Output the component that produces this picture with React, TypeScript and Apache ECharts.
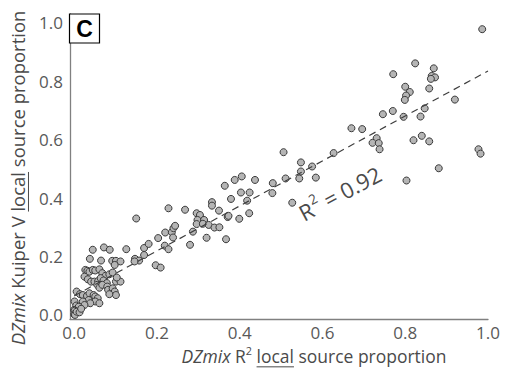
import React, { useEffect, useRef } from "react";
import * as echarts from "echarts";

// DZmix R2 local source proportion (x) vs DZmix Kuiper V local source proportion (y)
const r2Local = [
  0.045, 0.072, 0.086, 0.126, 0.038, 0.065, 0.092, 0.101, 0.112, 0.098,
  0.027, 0.032, 0.037, 0.045, 0.051, 0.061, 0.068, 0.076, 0.085, 0.093,
  0.101, 0.112, 0.103, 0.025, 0.033, 0.041, 0.049, 0.058, 0.064, 0.071,
  0.079, 0.056, 0.061, 0.068, 0.080, 0.082, 0.093, 0.098, 0.101, 0.085,
  0.006, 0.014, 0.021, 0.031, 0.037, 0.047, 0.051, 0.057, 0.051, 0.061,
  0.035, 0.039, 0.021, 0.025, 0.001, 0.005, 0.011, 0.0, 0.001, 0.0,
  0.002, 0.006, 0.013, 0.017,
  0.147, 0.157, 0.146, 0.169, 0.169, 0.180, 0.197, 0.209, 0.203, 0.219,
  0.228, 0.220, 0.236, 0.240, 0.244, 0.239, 0.287, 0.280, 0.150, 0.228,
  0.268, 0.296, 0.304, 0.298, 0.314, 0.296, 0.311, 0.325, 0.339, 0.351,
  0.320, 0.367, 0.333, 0.333, 0.350, 0.371, 0.373, 0.399, 0.423, 0.364,
  0.379, 0.388, 0.405, 0.437, 0.480, 0.511, 0.544, 0.584, 0.479, 0.403,
  0.424, 0.418, 0.527, 0.506, 0.627, 0.548, 0.575, 0.548,
  0.986, 0.824, 0.771, 0.869, 0.864, 0.872, 0.862, 0.800, 0.811, 0.802,
  0.799, 0.858, 0.920, 0.847, 0.837, 0.796, 0.770, 0.746, 0.670, 0.696,
  0.731, 0.721, 0.736, 0.738, 0.820, 0.840, 0.858, 0.977, 0.982, 0.881,
  0.803,
];
const kuiperLocal = [
  0.223, 0.231, 0.223, 0.225, 0.192, 0.186, 0.185, 0.185, 0.183, 0.171,
  0.154, 0.151, 0.148, 0.154, 0.152, 0.156, 0.143, 0.134, 0.139, 0.145,
  0.114, 0.114, 0.128, 0.131, 0.122, 0.114, 0.114, 0.116, 0.126, 0.118,
  0.109, 0.103, 0.093, 0.103, 0.097, 0.086, 0.091, 0.080, 0.068, 0.071,
  0.080, 0.071, 0.068, 0.065, 0.074, 0.068, 0.063, 0.057, 0.046, 0.040,
  0.051, 0.040, 0.046, 0.034, 0.046, 0.032, 0.028, 0.017, 0.014, 0.002,
  0.0, 0.011, 0.009, 0.021,
  0.192, 0.186, 0.183, 0.229, 0.205, 0.243, 0.170, 0.162, 0.263, 0.237,
  0.225, 0.282, 0.283, 0.297, 0.305, 0.265, 0.285, 0.240, 0.330, 0.365,
  0.360, 0.348, 0.342, 0.325, 0.325, 0.311, 0.312, 0.308, 0.299, 0.300,
  0.264, 0.259, 0.386, 0.374, 0.357, 0.335, 0.339, 0.329, 0.348, 0.442,
  0.397, 0.462, 0.474, 0.462, 0.451, 0.467, 0.467, 0.470, 0.417, 0.419,
  0.419, 0.391, 0.384, 0.557, 0.554, 0.522, 0.508, 0.491,
  0.978, 0.861, 0.824, 0.844, 0.818, 0.813, 0.808, 0.781, 0.763, 0.751,
  0.736, 0.775, 0.737, 0.707, 0.679, 0.678, 0.698, 0.687, 0.639, 0.636,
  0.605, 0.589, 0.588, 0.567, 0.598, 0.613, 0.594, 0.567, 0.552, 0.502,
  0.460,
];
const tickValues = [0, 0.2, 0.4, 0.6, 0.8, 1.0];
const trendLine = [
  [0, 0.065],
  [1, 0.835],
];
const panelLetter = "C";
const r2Text = { label: "R", sup: "2", rest: " = 0.92" };

const FONT = "Open Sans";
const TEXT_COLOR = "#4a4a4a";

type Seg = { t: string; italic?: boolean; sup?: boolean; underline?: boolean };

const xTitleSegs: Seg[] = [
  { t: "DZmix", italic: true },
  { t: " R" },
  { t: "2", sup: true },
  { t: " " },
  { t: "local", underline: true },
  { t: " source proportion" },
];
const yTitleSegs: Seg[] = [
  { t: "DZmix", italic: true },
  { t: " Kuiper V " },
  { t: "local", underline: true },
  { t: " source proportion" },
];

const ctx = document.createElement("canvas").getContext("2d") as CanvasRenderingContext2D;
function measure(text: string, size: number, italic = false) {
  ctx.font = `${italic ? "italic " : ""}${size}px "${FONT}"`;
  return ctx.measureText(text).width;
}

function segWidth(segs: Seg[], size: number) {
  let w = 0;
  for (const s of segs) w += measure(s.t, s.sup ? size * 0.62 : size, !!s.italic);
  return w;
}

function buildTitle(segs: Seg[], targetWidth: number, cx: number, cy: number, rotation: number) {
  const base = 16;
  const size = (base * targetWidth) / segWidth(segs, base);
  const total = segWidth(segs, size);
  let x = -total / 2;
  const children: any[] = [];
  for (const s of segs) {
    const fs = s.sup ? size * 0.62 : size;
    const w = measure(s.t, fs, !!s.italic);
    children.push({
      type: "text",
      x,
      y: s.sup ? -size * 0.32 : 0,
      style: {
        text: s.t,
        font: `${s.italic ? "italic " : ""}${fs}px "${FONT}"`,
        fill: TEXT_COLOR,
        align: "left",
        verticalAlign: "middle",
      },
    });
    if (s.underline) {
      children.push({
        type: "line",
        shape: { x1: x, y1: size * 0.62, x2: x + w, y2: size * 0.62 },
        style: { stroke: TEXT_COLOR, lineWidth: 1 },
      });
    }
    x += w;
  }
  return { type: "group", x: cx, y: cy, rotation, children };
}

function buildR2(x: number, y: number, rotation: number) {
  const size = 22;
  const wR = measure(r2Text.label, size);
  const wS = measure(r2Text.sup, size * 0.62);
  return {
    type: "group",
    x,
    y,
    rotation,
    children: [
      { type: "text", x: 0, y: 0, style: { text: r2Text.label, font: `${size}px "${FONT}"`, fill: TEXT_COLOR, verticalAlign: "middle" } },
      { type: "text", x: wR + 1, y: -size * 0.35, style: { text: r2Text.sup, font: `${size * 0.62}px "${FONT}"`, fill: TEXT_COLOR, verticalAlign: "middle" } },
      { type: "text", x: wR + wS + 1, y: 0, style: { text: r2Text.rest, font: `${size}px "${FONT}"`, fill: TEXT_COLOR, verticalAlign: "middle" } },
    ],
  };
}

export default function App() {
  const ref = useRef<HTMLDivElement>(null);
  useEffect(() => {
    document.body.style.margin = "0";
    const chart = echarts.init(ref.current!, undefined, { renderer: "svg" });
    const points = r2Local.map((x, i) => [x, kuiperLocal[i]]);
    const axisCommon = {
      type: "value" as const,
      axisLine: { show: true, onZero: false, lineStyle: { color: "#808080", width: 1.3 } },
      axisTick: { show: false },
      splitLine: { show: false },
    };
    chart.setOption({
      animation: false,
      backgroundColor: "#ffffff",
      grid: { left: 70, right: 17, top: 14, bottom: 50, containLabel: false },
      xAxis: {
        ...axisCommon,
        min: -0.01,
        max: 1.0,
        axisLabel: {
          customValues: tickValues,
          formatter: (v: number) => v.toFixed(1),
          color: "#595959",
          fontSize: 17,
          fontFamily: FONT,
          margin: 5,
        },
      },
      yAxis: {
        ...axisCommon,
        min: -0.014,
        max: 1.03,
        axisLabel: {
          customValues: tickValues,
          formatter: (v: number) => v.toFixed(1),
          color: "#595959",
          fontSize: 17,
          fontFamily: FONT,
          margin: 7,
        },
      },
      series: [
        {
          type: "scatter",
          data: points,
          symbol: "circle",
          symbolSize: 7,
          itemStyle: { color: "#b5b5b5", borderColor: "#3a3a3a", borderWidth: 1, opacity: 1 },
          z: 2,
        },
        {
          type: "line",
          data: trendLine,
          symbol: "none",
          lineStyle: { color: "#3f3f3f", width: 1.2, type: [7, 5] },
          z: 3,
        },
      ],
      graphic: [
        buildTitle(xTitleSegs, 265, 314, 356, 0),
        buildTitle(yTitleSegs, 335, 17, 178, Math.PI / 2),
        buildR2(300, 214, (28 * Math.PI) / 180),
        {
          type: "rect",
          shape: { x: 69.5, y: 14, width: 30, height: 29 },
          style: { fill: "#ffffff", stroke: "#000000", lineWidth: 1.2 },
          z: 10,
        },
        {
          type: "text",
          x: 84.5,
          y: 29,
          style: {
            text: panelLetter,
            font: 'bold 23px "Liberation Sans"',
            fill: "#000000",
            align: "center",
            verticalAlign: "middle",
          },
          z: 11,
        },
      ],
    });
    return () => chart.dispose();
  }, []);
  return <div ref={ref} style={{ width: 505, height: 369 }} />;
}
